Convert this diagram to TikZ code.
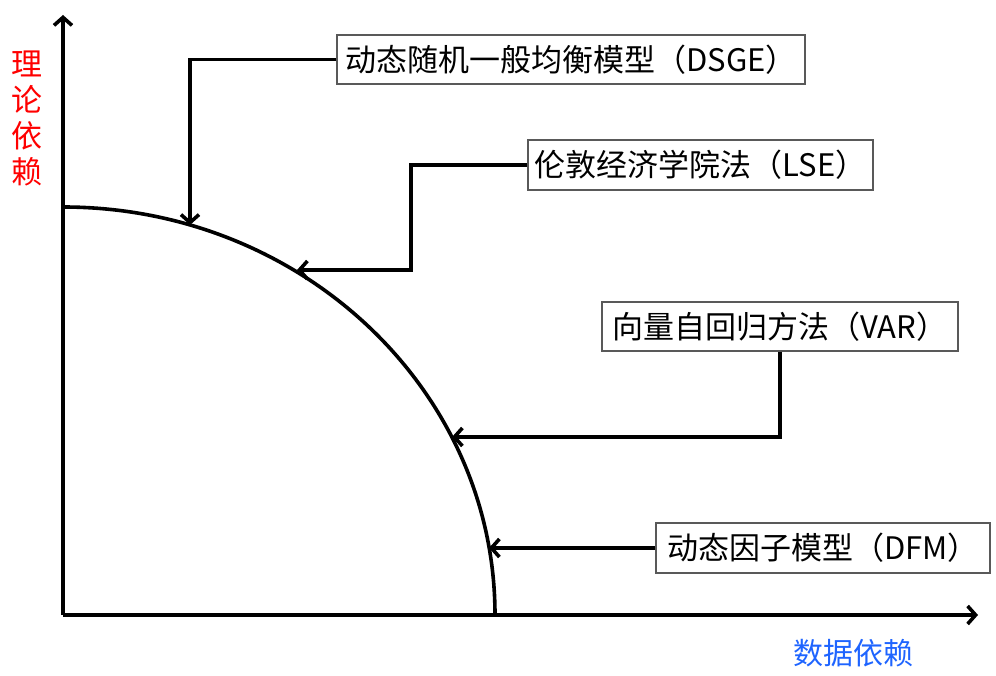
\documentclass[tikz,border=0pt]{standalone}
\usepackage{fontspec}
\setmainfont{Noto Sans CJK SC}
\usetikzlibrary{arrows.meta}
\definecolor{labred}{RGB}{255,0,0}
\definecolor{labblue}{RGB}{30,100,255}
\tikzset{
  x=1pt,y=1pt,
  thick line/.style={line width=3.6pt},
  openhead/.style={-{Straight Barb[length=8pt,width=18pt,line width=3.6pt]}},
  mbox/.style={draw=black!65,line width=1.3pt,fill=white,inner sep=0pt,
    font=\fontsize{31}{33}\selectfont},
  axislabel/.style={font=\fontsize{31}{36}\selectfont,inner sep=0pt},
}
\begin{document}
\begin{tikzpicture}
\useasboundingbox (0,0) rectangle (996,675);
% axes
\coordinate (O) at (63,60);
\coordinate (ytop) at (63,660);
\coordinate (xend) at (978,60);
\draw[thick line,openhead] (O) -- (ytop);
\draw[thick line,openhead] (O) -- (xend);
% frontier curve
\coordinate (cstart) at (63,468);
\draw[thick line] (cstart) arc[start angle=90,end angle=0,x radius=432,y radius=408];
% points on curve
\coordinate (c1) at (190,450);
\coordinate (k2) at (411,405);
\coordinate (c2) at (297,405);
\coordinate (c3) at (452,238);
\coordinate (c4) at (489,127);
% boxes
\node[mbox,minimum width=468,minimum height=49] (dsge) at (571,615.5) {动态随机一般均衡模型（DSGE）};
\node[mbox,minimum width=345,minimum height=50] (lse) at (700.5,510) {伦敦经济学院法（LSE）};
\node[mbox,minimum width=356,minimum height=49] (var) at (780,348.5) {向量自回归方法（VAR）};
\node[mbox,minimum width=334,minimum height=50] (dfm) at (823,127) {动态因子模型（DFM）};
% connectors
\draw[thick line,openhead] (dsge.west) -| (c1);
\draw[thick line,openhead] (lse.west) -| (k2) -- (c2);
\draw[thick line,openhead] (var.south) |- (c3);
\draw[thick line,openhead] (dfm.west) -- (c4);
% axis labels
\node[axislabel,text=labred,align=center] (ylab) at (27,557) {理\\论\\依\\赖};
\node[axislabel,text=labblue,font=\fontsize{30}{34}\selectfont] (xlab) at (853,22) {数据依赖};
\end{tikzpicture}
\end{document}
